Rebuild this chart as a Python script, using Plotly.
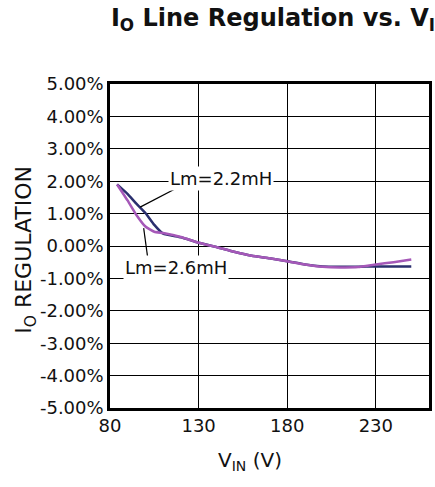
import plotly.graph_objects as go

# Data
v_in = [84, 90, 95, 100, 105, 110, 120, 130, 140, 150, 160, 170, 180, 190, 200, 210, 220, 230, 240, 250]
reg_22mH = [1.9, 1.6, 1.3, 1.02, 0.65, 0.38, 0.27, 0.1, -0.03, -0.18, -0.3, -0.38, -0.47, -0.57, -0.63, -0.64, -0.64, -0.63, -0.63, -0.63]
reg_26mH = [1.9, 1.4, 0.95, 0.6, 0.44, 0.4, 0.28, 0.1, -0.03, -0.18, -0.3, -0.38, -0.47, -0.57, -0.64, -0.66, -0.65, -0.57, -0.5, -0.42]

y_ticks = [5, 4, 3, 2, 1, 0, -1, -2, -3, -4, -5]
y_tick_labels = ["5.00%", "4.00%", "3.00%", "2.00%", "1.00%", "0.00%",
                 "-1.00%", "-2.00%", "-3.00%", "-4.00%", "-5.00%"]
x_ticks = [80, 130, 180, 230]
x_tick_labels = ["80", "130", "180", "230"]

FONT = "DejaVu Sans, Arial, sans-serif"
BLUE = "#2a2f6e"
PURPLE = "#a558b8"

fig = go.Figure()
fig.add_trace(go.Scatter(x=v_in, y=reg_22mH, mode="lines", name="Lm=2.2mH",
                         line=dict(color=BLUE, width=2.5, shape="spline", smoothing=0.4)))
fig.add_trace(go.Scatter(x=v_in, y=reg_26mH, mode="lines", name="Lm=2.6mH",
                         line=dict(color=PURPLE, width=2.5, shape="spline", smoothing=0.4)))

# leader lines
fig.add_shape(type="line", x0=118, y0=1.8, x1=97, y1=1.2,
              line=dict(color="black", width=1.2))
fig.add_shape(type="line", x0=101.5, y0=-0.45, x1=99, y1=0.55,
              line=dict(color="black", width=1.2))

fig.add_annotation(x=142.5, y=2.07, text="Lm=2.2mH", showarrow=False,
                   font=dict(family=FONT, size=18, color="#111"),
                   bgcolor="white", borderpad=1)
fig.add_annotation(x=117, y=-0.66, text="Lm=2.6mH", showarrow=False,
                   font=dict(family=FONT, size=18, color="#111"),
                   bgcolor="white", borderpad=1)

# x-axis title as annotation
fig.add_annotation(xref="paper", yref="paper", x=0.44, y=-0.164, yanchor="middle",
                   text="V<sub>IN</sub> (V)",
                   showarrow=False, font=dict(family=FONT, size=20, color="#111"))
# y-axis title
fig.add_annotation(xref="paper", yref="paper", x=-0.265, xanchor="center", y=0.49,
                   text="I<sub>O</sub> REGULATION",
                   textangle=-90, showarrow=False, font=dict(family=FONT, size=22, color="#111"))

fig.update_layout(
    width=435, height=487,
    margin=dict(l=110, r=3, t=84, b=79),
    paper_bgcolor="white", plot_bgcolor="white",
    showlegend=False,
    title=dict(text="<b>I<sub>O</sub> Line Regulation vs. V<sub>I</sub></b>",
               x=1.0, xanchor="right", xref="container", y=0.963, yanchor="middle",
               yref="container",
               font=dict(family=FONT, size=24, color="#111")),
    font=dict(family=FONT, size=18, color="#111"),
)
fig.update_xaxes(range=[80, 260], tickvals=x_ticks, ticktext=x_tick_labels,
                 showgrid=True, gridcolor="black", gridwidth=1,
                 showline=True, linecolor="black", linewidth=2.5, mirror=True,
                 ticks="", zeroline=False, tickfont=dict(family=FONT, size=18))
fig.update_yaxes(range=[-5, 5], tickvals=y_ticks, ticktext=y_tick_labels,
                 showgrid=True, gridcolor="black", gridwidth=1,
                 showline=True, linecolor="black", linewidth=2.5, mirror=True,
                 ticks="", zeroline=False, tickfont=dict(family=FONT, size=18))

fig.write_html("out.html")
